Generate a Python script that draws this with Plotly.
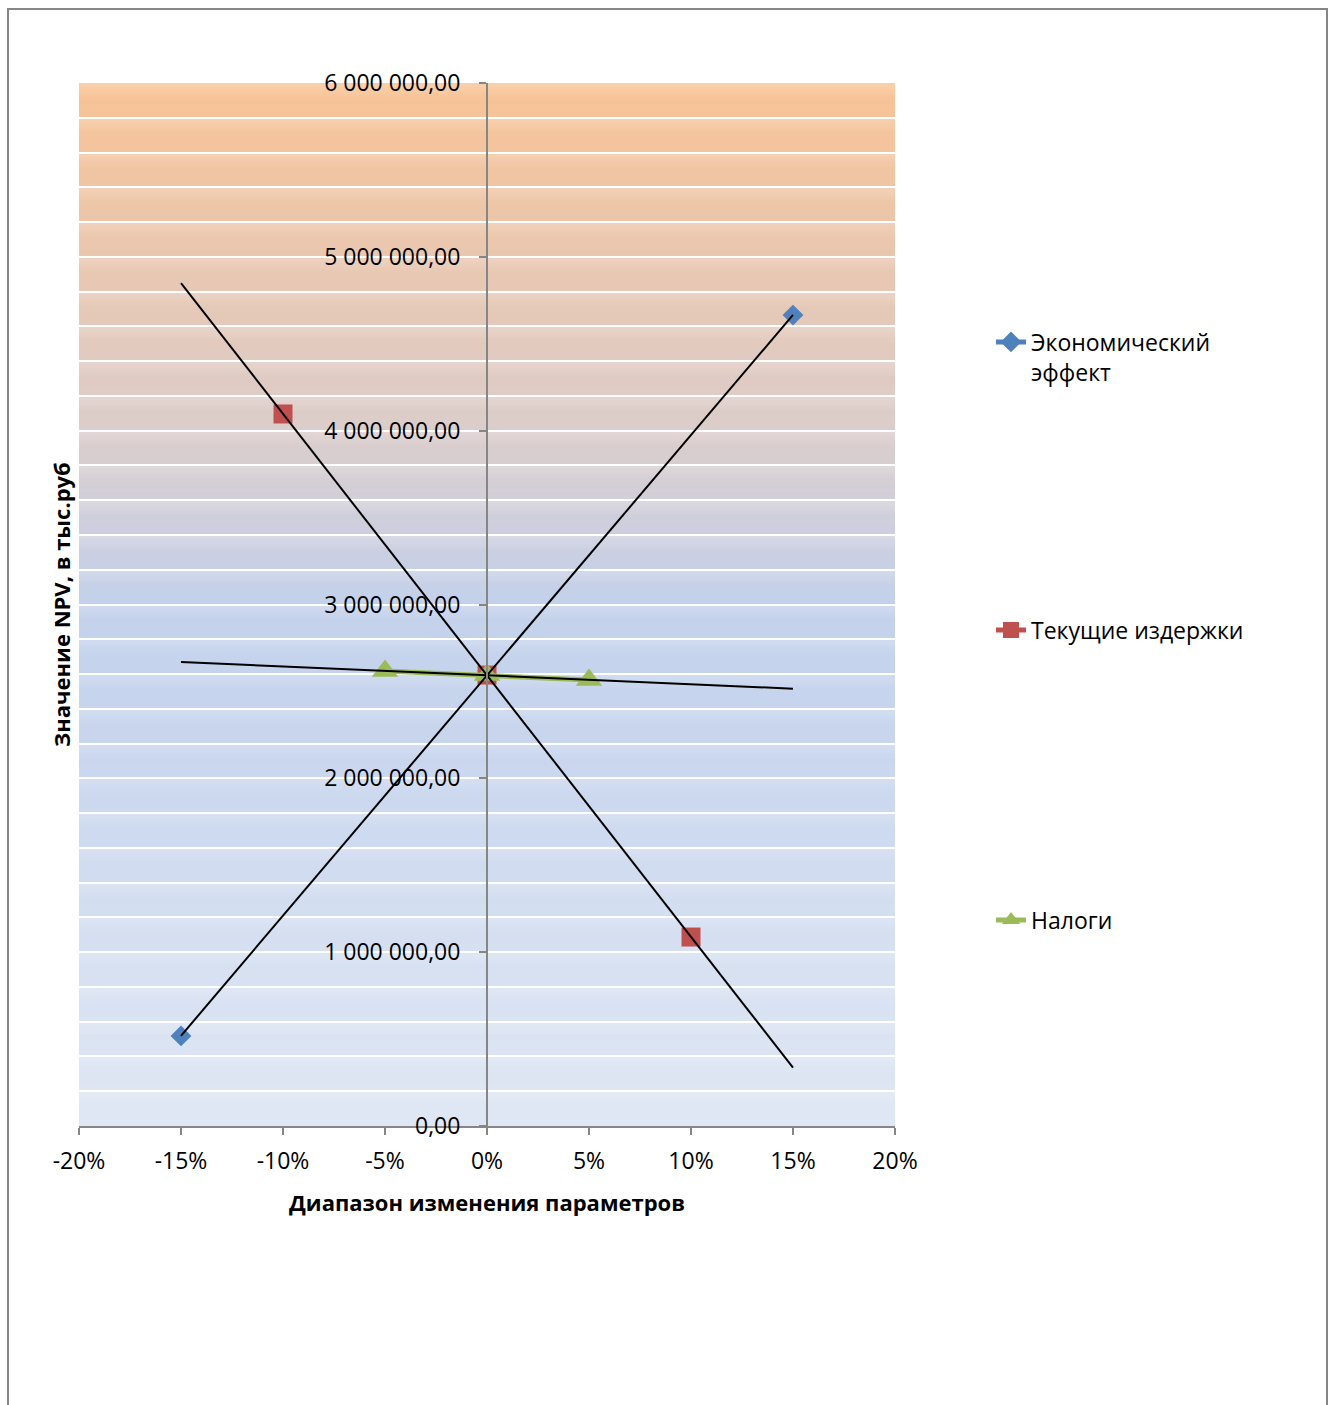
import numpy as np
import plotly.graph_objects as go

# --- data: NPV sensitivity to parameter change (%), values in thousand rubles ---
econ_change = [-15, 0, 15]
econ_npv = [518000, 2594000, 4665000]

cost_change = [-10, 0, 10]
cost_npv = [4096000, 2594000, 1087000]

tax_change = [-5, 0, 5]
tax_npv = [2617000, 2594000, 2566000]

trend_span = [-15, 15]

x_tick_vals = [-20, -15, -10, -5, 0, 5, 10, 15, 20]
x_tick_text = ["-20%", "-15%", "-10%", "-5%", "0%", "5%", "10%", "15%", "20%"]
y_tick_vals = [0, 1000000, 2000000, 3000000, 4000000, 5000000, 6000000]
y_tick_text = ["0,00", "1 000 000,00", "2 000 000,00", "3 000 000,00",
               "4 000 000,00", "5 000 000,00", "6 000 000,00"]

series_names = ["Экономический<br>эффект", "Текущие издержки", "Налоги"]
series_colors = ["#4F81BD", "#C0504D", "#9BBB59"]

# --- page geometry ---
W, H = 1335, 1405
ML, MR, MT, MB = 79, 440, 83, 279
PW, PH = W - ML - MR, H - MT - MB
FONT = "Open Sans"
FS = 23


def px_to_paper_x(px):
    return (px - ML) / PW


def px_to_paper_y(py):
    return (H - MB - py) / PH


# --- background fill: warm-to-cool vertical gradient with soft banding ---
grad_stops = [
    (0.0, (224, 231, 244)),
    (1.0, (214, 224, 241)),
    (2.0, (202, 215, 238)),
    (3.0, (195, 209, 235)),
    (3.5, (207, 207, 220)),
    (4.0, (219, 205, 203)),
    (5.0, (233, 199, 176)),
    (6.0, (248, 195, 149)),
]
band = 200000
rows_per_band = 16
n_rows = int(6000000 / band) * rows_per_band
edges = np.linspace(0, 6000000, n_rows + 1)
centers = (edges[:-1] + edges[1:]) / 2
sv = np.array([s[0] for s in grad_stops])
sc = np.array([s[1] for s in grad_stops], dtype=float)
colorscale = []
for i, yc in enumerate(centers):
    m = yc / 1e6
    rgb = np.array([np.interp(m, sv, sc[:, k]) for k in range(3)])
    # lighter sheen just under each band's upper edge
    frac = (yc % band) / band
    sheen = max(0.0, (frac - 0.55) / 0.45) * 0.22
    rgb = rgb + (255 - rgb) * sheen
    r, g, b = [int(round(v)) for v in rgb]
    colorscale.append([i / (n_rows - 1), f"rgb({r},{g},{b})"])

fig = go.Figure()

fig.add_trace(go.Heatmap(
    x=[-20, 20], y=edges, z=[[i] for i in range(n_rows)],
    colorscale=colorscale, showscale=False, hoverinfo="skip",
    xaxis="x", yaxis="y", zmin=0, zmax=n_rows - 1,
))

# --- data markers ---
fig.add_trace(go.Scatter(
    x=econ_change, y=econ_npv, mode="markers", showlegend=False,
    marker=dict(symbol="diamond", size=16, color=series_colors[0]),
    xaxis="x2", yaxis="y2",
))
fig.add_trace(go.Scatter(
    x=cost_change, y=cost_npv, mode="markers", showlegend=False,
    marker=dict(symbol="square", size=19, color=series_colors[1]),
    xaxis="x2", yaxis="y2",
))
fig.add_trace(go.Scatter(
    x=tax_change, y=tax_npv, mode="lines+markers", showlegend=False,
    line=dict(color=series_colors[2], width=5),
    marker=dict(symbol="triangle-up", size=23, color=series_colors[2]),
    xaxis="x2", yaxis="y2",
))

# --- linear trendlines ---
for xs, ys in [(econ_change, econ_npv), (cost_change, cost_npv), (tax_change, tax_npv)]:
    k, b = np.polyfit(xs, ys, 1)
    fig.add_trace(go.Scatter(
        x=trend_span, y=[k * v + b for v in trend_span], mode="lines",
        line=dict(color="#000000", width=2), showlegend=False,
        hoverinfo="skip", xaxis="x2", yaxis="y2",
    ))

# --- legend entries (one legend box per series) ---
symbols = ["diamond", "square", "triangle-up"]
legend_ids = ["legend", "legend2", "legend3"]
for name, color, sym, lid in zip(series_names, series_colors, symbols, legend_ids):
    fig.add_trace(go.Scatter(
        x=[None], y=[None], mode="lines+markers", name=name,
        line=dict(color=color, width=5),
        marker=dict(symbol=sym, size=16, color=color),
        legend=lid, xaxis="x2", yaxis="y2",
    ))

legend_common = dict(
    xref="paper", yref="paper", xanchor="left", yanchor="middle",
    font=dict(family=FONT, size=FS, color="#000000"),
    bgcolor="rgba(0,0,0,0)", borderwidth=0, valign="top",
)
legend_x = px_to_paper_x(991)

axis_gray = "#868686"
tick_font = dict(family=FONT, size=FS, color="#000000")

fig.update_layout(
    width=W, height=H,
    margin=dict(l=ML, r=MR, t=MT, b=MB),
    paper_bgcolor="#FFFFFF", plot_bgcolor="rgba(0,0,0,0)",
    font=dict(family=FONT, size=FS, color="#000000"),
    legend=dict(x=legend_x, y=px_to_paper_y(357), **legend_common),
    legend2=dict(x=legend_x, y=px_to_paper_y(630), **legend_common),
    legend3=dict(x=legend_x, y=px_to_paper_y(920), **legend_common),
    xaxis=dict(range=[-20, 20], visible=False, fixedrange=True, domain=[0, 1]),
    yaxis=dict(range=[0, 6000000], visible=False, fixedrange=True, domain=[0, 1]),
    xaxis2=dict(
        range=[-20, 20], domain=[0, 1], anchor="y2",
        tickmode="array", tickvals=x_tick_vals, ticktext=x_tick_text,
        ticks="outside", ticklen=7, tickwidth=2, tickcolor=axis_gray,
        showline=True, linecolor=axis_gray, linewidth=2,
        showgrid=False, zeroline=False, tickfont=tick_font,
        ticklabelstandoff=6,
    ),
    yaxis2=dict(
        range=[0, 6000000], domain=[0, 1], anchor="free", position=0.5,
        tickmode="array", tickvals=y_tick_vals, ticktext=y_tick_text,
        ticks="outside", ticklen=7, tickwidth=2, tickcolor=axis_gray,
        showline=True, linecolor=axis_gray, linewidth=2,
        showgrid=True, gridcolor="#FFFFFF", gridwidth=2, zeroline=False,
        minor=dict(tickmode="linear", tick0=0, dtick=200000,
                   showgrid=True, gridcolor="#FFFFFF", gridwidth=2, ticks=""),
        tickfont=tick_font, ticklabelstandoff=14,
    ),
    showlegend=True,
)

# axis titles
fig.add_annotation(
    text="<b>Диапазон изменения параметров</b>", xref="paper", yref="paper",
    x=px_to_paper_x(487), y=px_to_paper_y(1202), showarrow=False,
    xanchor="center", yanchor="middle",
    font=dict(family=FONT, size=22, color="#000000"),
)
fig.add_annotation(
    text="<b>Значение NPV, в тыс.руб</b>", xref="paper", yref="paper",
    x=px_to_paper_x(61), y=px_to_paper_y(605), showarrow=False, textangle=-90,
    xanchor="center", yanchor="middle",
    font=dict(family=FONT, size=22, color="#000000"),
)

# chart frame
fig.add_shape(
    type="rect", xref="paper", yref="paper",
    x0=px_to_paper_x(8), x1=px_to_paper_x(1327),
    y0=px_to_paper_y(1420), y1=px_to_paper_y(9),
    line=dict(color=axis_gray, width=2), fillcolor="rgba(0,0,0,0)", layer="above",
)

fig.write_html("out.html")
